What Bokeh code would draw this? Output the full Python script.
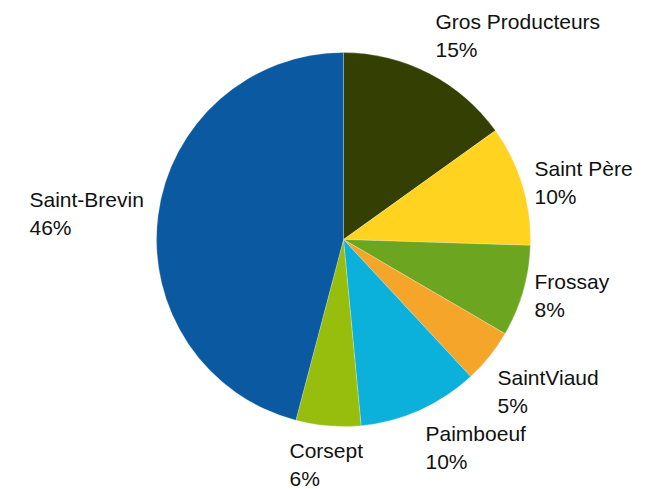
import math
from bokeh.plotting import figure
from bokeh.models import Range1d, ColumnDataSource
from bokeh.core.properties import value
from bokeh.embed import file_html
from bokeh.resources import INLINE

categories = ["Gros Producteurs", "Saint Père", "Frossay", "SaintViaud", "Paimboeuf", "Corsept", "Saint-Brevin"]
shares = [15.1, 10.4, 7.9, 4.7, 10.4, 5.6, 45.9]
colors = ["#333f03", "#ffd320", "#6ca520", "#f5a52a", "#0bb0db", "#97be0d", "#0b5aa1"]

W, H = 647, 489
cx, cy, r = 343, H - 239, 187

# label anchor positions (left x, baseline y in page pixels)
label_pos = [(435, 21), (534, 168), (534, 281), (497, 377), (425, 433), (289, 450), (29, 199)]

total = sum(shares)
starts, ends = [], []
acc = 0.0
for s in shares:
    starts.append(math.pi / 2 - acc / total * 2 * math.pi)
    acc += s
    ends.append(math.pi / 2 - acc / total * 2 * math.pi)

src = ColumnDataSource(dict(x=[cx] * len(shares), y=[cy] * len(shares),
                            start=starts, end=ends, color=colors))

p = figure(width=W, height=H, output_backend="svg", toolbar_location=None,
           x_range=Range1d(0, W), y_range=Range1d(0, H), min_border=0)
p.axis.visible = False
p.grid.visible = False
p.outline_line_color = None
p.background_fill_color = "white"

p.wedge(x="x", y="y", radius=r, radius_units="screen", start_angle="start", end_angle="end",
        direction="clock", fill_color="color", line_color="white", line_width=0.4, line_alpha=0.6,
        source=src)

names_x = [lp[0] for lp in label_pos]
names_y = [H - lp[1] for lp in label_pos]
pct_y = [y - 28 for y in names_y]
pct_text = [f"{round(s / total * 100)}%" for s in shares]

p.text(x=names_x, y=names_y, text=categories, text_font=value("Liberation Sans"),
       text_font_size="21px", text_color="#111111", text_baseline="alphabetic", text_align="left")
p.text(x=names_x, y=pct_y, text=pct_text, text_font=value("Liberation Sans"),
       text_font_size="21px", text_color="#111111", text_baseline="alphabetic", text_align="left")

open("out.html", "w").write(file_html(p, INLINE))
